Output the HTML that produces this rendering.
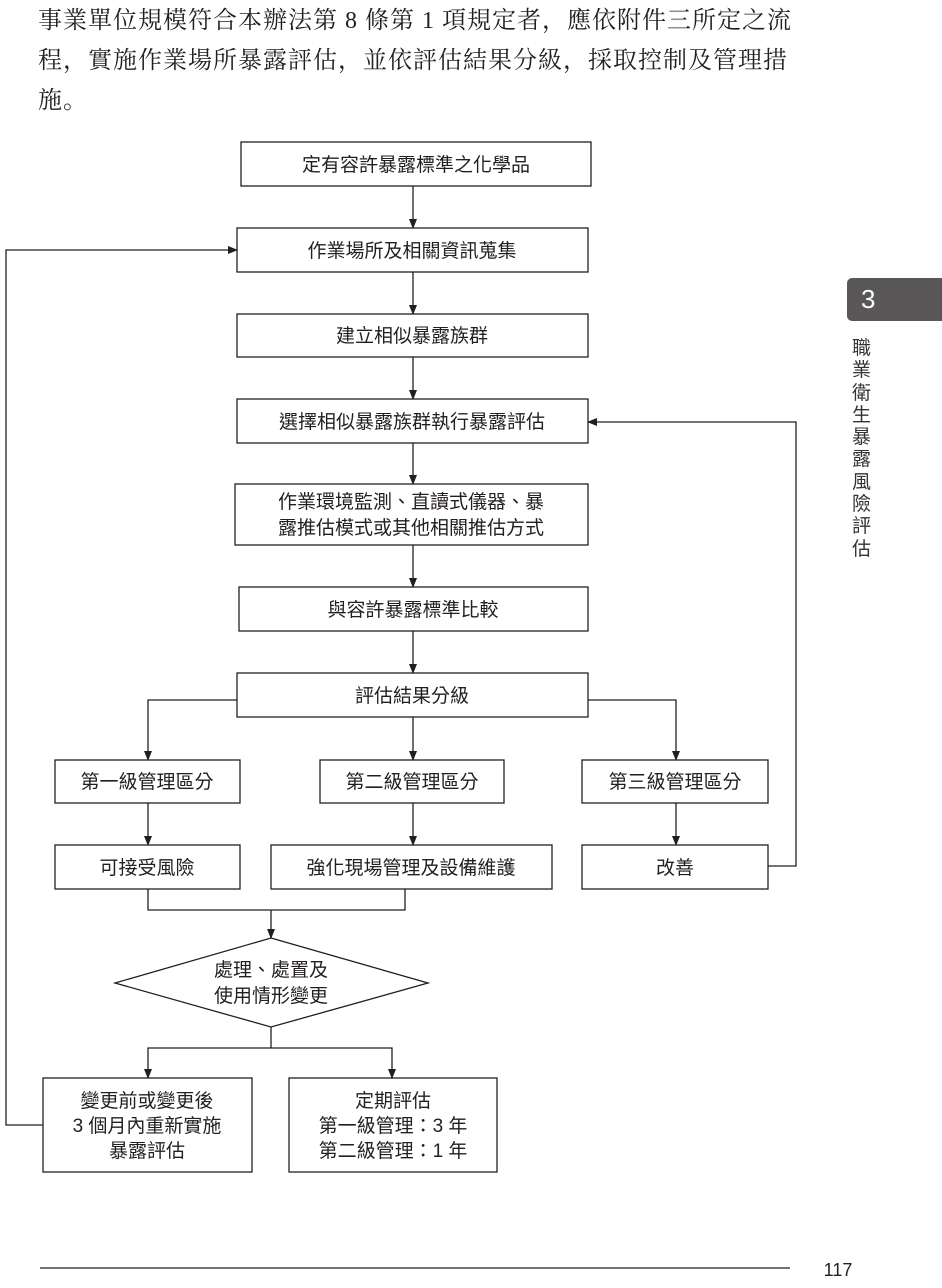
<!DOCTYPE html>
<html><head><meta charset="utf-8"><style>
body{margin:0;width:942px;height:1288px;background:#fff;overflow:hidden;position:relative;font-family:"Liberation Sans","Noto Sans CJK TC",sans-serif;color:#231f20}
.p{position:absolute;left:38px;font-size:24px;letter-spacing:1px;line-height:40px;top:1px;width:820px;white-space:nowrap;font-family:"Liberation Serif","Noto Serif CJK SC",serif}
.tab{position:absolute;left:847px;top:278px;width:95px;height:43px;background:#595757;border-radius:5px 0 0 5px;color:#fff;font-size:26px;line-height:43px;padding-left:14px;box-sizing:border-box}
.side{position:absolute;left:852px;top:338px;width:22px;font-size:19px;line-height:22.3px;color:#333}
svg text{font-family:"Liberation Sans","Noto Sans CJK TC",sans-serif;font-size:19px;fill:#231f20;text-anchor:middle}
</style></head><body>
<div class="p">事業單位規模符合本辦法第 8 條第 1 項規定者，應依附件三所定之流<br>程，實施作業場所暴露評估，並依評估結果分級，採取控制及管理措<br>施。</div>
<div class="tab">3</div>
<div class="side">職業衛生暴露風險評估</div>
<svg width="942" height="1288" style="position:absolute;left:0;top:0">
<defs><marker id="a" markerWidth="10" markerHeight="10" refX="9" refY="5" orient="auto" markerUnits="userSpaceOnUse"><path d="M0,1 L10,5 L0,9 z" fill="#231f20"/></marker></defs>
<g fill="none" stroke="#231f20" stroke-width="1.3">
<rect x="241" y="142" width="350" height="44"/>
<rect x="237" y="228" width="351" height="44"/>
<rect x="237" y="314" width="351" height="43"/>
<rect x="237" y="399" width="351" height="44"/>
<rect x="235" y="484" width="353" height="61"/>
<rect x="239" y="587" width="349" height="44"/>
<rect x="237" y="673" width="351" height="44"/>
<rect x="55" y="760" width="185" height="43"/>
<rect x="320" y="760" width="184" height="43"/>
<rect x="582" y="760" width="186" height="43"/>
<rect x="55" y="845" width="185" height="44"/>
<rect x="271" y="845" width="281" height="44"/>
<rect x="582" y="845" width="186" height="44"/>
<polygon points="271,938 428,983 271,1027 115,983"/>
<rect x="43" y="1078" width="209" height="94"/>
<rect x="289" y="1078" width="208" height="94"/>
<g marker-end="url(#a)">
<line x1="413" y1="186" x2="413" y2="228"/>
<line x1="413" y1="272" x2="413" y2="314"/>
<line x1="413" y1="357" x2="413" y2="399"/>
<line x1="413" y1="443" x2="413" y2="484"/>
<line x1="413" y1="545" x2="413" y2="587"/>
<line x1="413" y1="631" x2="413" y2="673"/>
<line x1="413" y1="717" x2="413" y2="760"/>
<polyline points="237,700 148,700 148,760"/>
<polyline points="588,700 676,700 676,760"/>
<line x1="148" y1="803" x2="148" y2="845"/>
<line x1="413" y1="803" x2="413" y2="845"/>
<line x1="676" y1="803" x2="676" y2="845"/>
<line x1="271" y1="910" x2="271" y2="938"/>
<polyline points="271,1048 148,1048 148,1078"/>
<polyline points="271,1048 392,1048 392,1078"/>
<polyline points="43,1125 6,1125 6,250 237,250"/>
<polyline points="768,866 796,866 796,422 588,422"/>
</g>
<polyline points="148,889 148,910 405,910 405,889"/>
<line x1="271" y1="1027" x2="271" y2="1048"/>
<line x1="40" y1="1268" x2="790" y2="1268"/>
</g>
<text x="416" y="171">定有容許暴露標準之化學品</text>
<text x="412" y="257">作業場所及相關資訊蒐集</text>
<text x="412" y="342">建立相似暴露族群</text>
<text x="412" y="428">選擇相似暴露族群執行暴露評估</text>
<text x="411" y="508">作業環境監測、直讀式儀器、暴</text>
<text x="411" y="534">露推估模式或其他相關推估方式</text>
<text x="413" y="616">與容許暴露標準比較</text>
<text x="412" y="702">評估結果分級</text>
<text x="147" y="788">第一級管理區分</text>
<text x="412" y="788">第二級管理區分</text>
<text x="675" y="788">第三級管理區分</text>
<text x="147" y="874">可接受風險</text>
<text x="411" y="874">強化現場管理及設備維護</text>
<text x="675" y="874">改善</text>
<text x="271" y="976">處理、處置及</text>
<text x="271" y="1002">使用情形變更</text>
<text x="147" y="1107">變更前或變更後</text>
<text x="147" y="1132">3 個月內重新實施</text>
<text x="147" y="1157">暴露評估</text>
<text x="393" y="1107">定期評估</text>
<text x="393" y="1132">第一級管理：3 年</text>
<text x="393" y="1157">第二級管理：1 年</text>
<text x="838" y="1276" style="font-size:18px">117</text>
</svg>
</body></html>
